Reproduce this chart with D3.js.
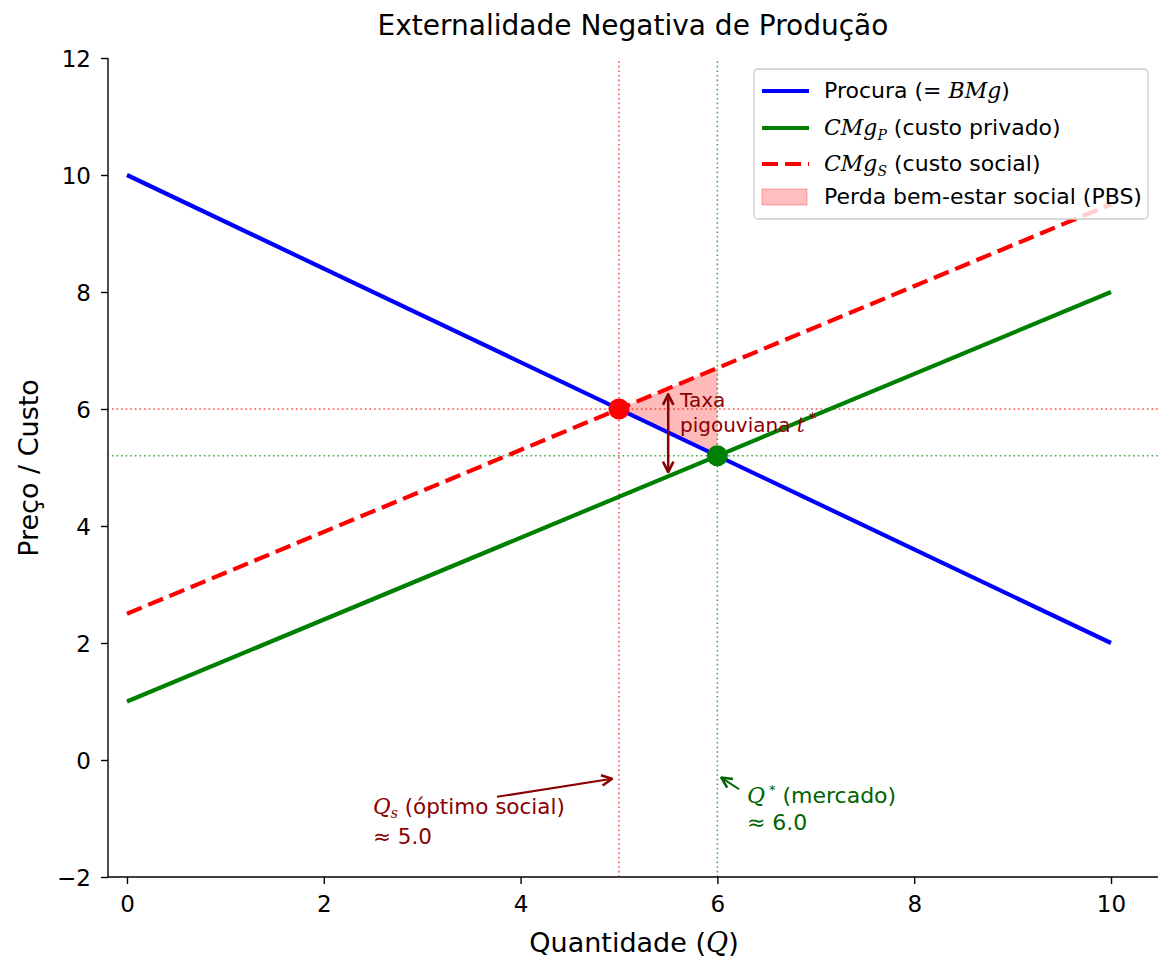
<!DOCTYPE html>
<html>
<head>
<meta charset="utf-8">
<script src="https://cdn.jsdelivr.net/npm/d3@7"></script>
<style>
  body { margin: 0; background: #fff; }
  svg { font-family: "DejaVu Sans", sans-serif; }
  .math { font-family: "DejaVu Serif", serif; font-style: italic; }
</style>
</head>
<body>
<div id="chart"></div>
<script>
// curves: price as function of quantity
const quantities = [0, 10];
const procura = [10, 2];     // BMg
const cmgP = [1, 8];         // custo privado
const cmgS = [2.5, 9.5];     // custo social
const xTicks = [0, 2, 4, 6, 8, 10];
const yTicks = [-2, 0, 2, 4, 6, 8, 10, 12];
const qSocial = 5.0, pSocial = 6.0;
const qMarket = 6.0, pMarket = 5.2;
const pbs = [[5, 6], [6, 6.7], [6, 5.2]];

const width = 1158, height = 960;
const svg = d3.select('#chart').append('svg').attr('width', width).attr('height', height);

const x = d3.scaleLinear().domain([-0.2, 10.5]).range([107.3, 1160.2]);
const y = d3.scaleLinear().domain([-2, 12]).range([877, 58]);

const defs = svg.append('defs');
defs.append('clipPath').attr('id', 'clip').append('rect')
  .attr('x', 108).attr('y', 58).attr('width', width - 108).attr('height', 819);
function marker(id, color) {
  defs.append('marker').attr('id', id).attr('viewBox', '0 0 12 12')
    .attr('refX', 11).attr('refY', 6)
    .attr('orient', 'auto-start-reverse').attr('markerUnits', 'userSpaceOnUse')
    .attr('markerWidth', 14).attr('markerHeight', 14)
    .append('path').attr('d', 'M2,1.5 L11,6 L2,10.5').attr('fill', 'none')
    .attr('stroke', color).attr('stroke-width', 2.2);
}
marker('arrRed', '#8b0000');
marker('arrGreen', '#006400');

const plot = svg.append('g').attr('clip-path', 'url(#clip)');

// guide lines
const guides = [
  { v: true, val: qSocial, c: 'red' },
  { v: false, val: pSocial, c: 'red' },
  { v: true, val: qMarket, c: 'green' },
  { v: false, val: pMarket, c: 'green' }
];
guides.forEach(g => {
  const l = plot.append('line').attr('stroke', g.c).attr('stroke-width', 1.6)
    .attr('stroke-dasharray', '1.6,3').attr('opacity', 0.7);
  if (g.v) l.attr('x1', x(g.val)).attr('x2', x(g.val)).attr('y1', y(-2)).attr('y2', y(12));
  else l.attr('y1', y(g.val)).attr('y2', y(g.val)).attr('x1', x(-0.2)).attr('x2', x(10.5));
});

// PBS triangle
plot.append('path')
  .attr('d', d3.line().x(d => x(d[0])).y(d => y(d[1]))(pbs) + 'Z')
  .attr('fill', 'red').attr('fill-opacity', 0.27);

const line = d3.line().x(d => x(d[0])).y(d => y(d[1]));
const series = [
  { vals: procura, c: 'blue', dash: null },
  { vals: cmgP, c: 'green', dash: null },
  { vals: cmgS, c: 'red', dash: '16,7' }
];
series.forEach(s => {
  plot.append('path').datum(quantities.map((q, i) => [q, s.vals[i]]))
    .attr('d', line).attr('fill', 'none').attr('stroke', s.c)
    .attr('stroke-width', 4.2).attr('stroke-dasharray', s.dash);
});

// equilibrium points
plot.append('circle').attr('cx', x(qSocial)).attr('cy', y(pSocial)).attr('r', 10.5).attr('fill', 'red');
plot.append('circle').attr('cx', x(qMarket)).attr('cy', y(pMarket)).attr('r', 10.5).attr('fill', 'green');

// pigouvian tax arrow
svg.append('line').attr('x1', x(5.5)).attr('x2', x(5.5)).attr('y1', y(6.25)).attr('y2', y(4.92))
  .attr('stroke', '#8b0000').attr('stroke-width', 2.5)
  .attr('marker-start', 'url(#arrRed)').attr('marker-end', 'url(#arrRed)');
const taxX = x(5.62), taxY = y(6.1) + 4;
svg.append('text').attr('fill', '#8b0000').attr('font-size', 20)
  .attr('x', taxX).attr('y', taxY).text('Taxa');
const tax2 = svg.append('text').attr('fill', '#8b0000').attr('font-size', 20)
  .attr('x', taxX).attr('y', taxY + 25);
tax2.append('tspan').text('pigouviana ');
tax2.append('tspan').attr('class', 'math').text('t');
const taxW = tax2.node().getComputedTextLength();
svg.append('text').attr('fill', '#8b0000').attr('font-size', 15)
  .attr('x', taxX + taxW + 4).attr('y', taxY + 17).text('*');

// annotations Qs and Q*
svg.append('line').attr('x1', 497).attr('y1', y(-0.63)).attr('x2', x(4.93)).attr('y2', y(-0.32))
  .attr('stroke', '#8b0000').attr('stroke-width', 2).attr('marker-end', 'url(#arrRed)');
const qs = svg.append('text').attr('fill', '#8b0000').attr('font-size', 21.5);
const qs1 = qs.append('tspan').attr('x', x(2.5)).attr('y', y(-0.92));
qs1.append('tspan').attr('class', 'math').text('Q');
qs1.append('tspan').attr('class', 'math').attr('font-size', 14).attr('dy', 4).text('s');
qs1.append('tspan').attr('dy', -4).text(' (óptimo social)');
qs.append('tspan').attr('x', x(2.5)).attr('dy', 30).text('≈ 5.0');

svg.append('line').attr('x1', x(6.22)).attr('y1', y(-0.5)).attr('x2', x(6.04)).attr('y2', y(-0.3))
  .attr('stroke', '#006400').attr('stroke-width', 2).attr('marker-end', 'url(#arrGreen)');
const qm = svg.append('text').attr('fill', '#006400').attr('font-size', 22);
const qm1 = qm.append('tspan').attr('x', x(6.3)).attr('y', y(-0.73));
qm1.append('tspan').attr('class', 'math').text('Q');
qm1.append('tspan').attr('font-size', 13).attr('dx', 4).attr('dy', -9).text('*');
qm1.append('tspan').attr('dy', 9).text('  (mercado)');
qm.append('tspan').attr('x', x(6.3)).attr('dy', 27).text('≈ 6.0');

// axes
const xAxis = svg.append('g').attr('transform', 'translate(0,' + y(-2) + ')')
  .call(d3.axisBottom(x).tickValues(xTicks).tickSize(7).tickPadding(12).tickFormat(d3.format('d')));
const yAxis = svg.append('g').attr('transform', 'translate(108,0)')
  .call(d3.axisLeft(y).tickValues(yTicks).tickSize(7).tickPadding(10).tickFormat(d => d < 0 ? '\u2212' + Math.abs(d) : d));
[xAxis, yAxis].forEach(a => {
  a.selectAll('text').attr('font-size', 23).attr('fill', '#000').attr('font-family', '"DejaVu Sans", sans-serif');
  a.selectAll('line').attr('stroke', '#000').attr('stroke-width', 1.4);
  a.select('.domain').attr('stroke', '#000').attr('stroke-width', 1.4);
});
yAxis.selectAll('text').attr('dy', '0.36em');
xAxis.select('.domain').attr('d', 'M108,0H' + width);
yAxis.select('.domain').attr('d', 'M0,' + y(-2) + 'V' + y(12));

// labels
svg.append('text').attr('x', 633).attr('y', 35).attr('text-anchor', 'middle')
  .attr('font-size', 28).text('Externalidade Negativa de Produção');
const xl = svg.append('text').attr('x', 634).attr('y', 952).attr('text-anchor', 'middle').attr('font-size', 27);
xl.append('tspan').text('Quantidade (');
xl.append('tspan').attr('class', 'math').text('Q');
xl.append('tspan').text(')');
svg.append('text').attr('transform', 'translate(38,468) rotate(-90)').attr('text-anchor', 'middle')
  .attr('font-size', 27).text('Preço / Custo');

// legend
const lg = svg.append('g').attr('transform', 'translate(754,69)');
lg.append('rect').attr('width', 394).attr('height', 150).attr('rx', 4)
  .attr('fill', '#fff').attr('fill-opacity', 0.8).attr('stroke', '#ccc').attr('stroke-width', 1.3);
const items = [
  { c: 'blue', type: 'line', dash: null, parts: [['Procura (= ', 0], ['BMg', 1], [')', 0]] },
  { c: 'green', type: 'line', dash: null, parts: [['CMg', 1], ['P', 2], [' (custo privado)', 0]] },
  { c: 'red', type: 'line', dash: '16,7', parts: [['CMg', 1], ['S', 2], [' (custo social)', 0]] },
  { c: 'red', type: 'patch', parts: [['Perda bem-estar social (PBS)', 0]] }
];
const rowY = [22, 59, 95, 128];
items.forEach((it, i) => {
  const g = lg.append('g').attr('transform', 'translate(0,' + rowY[i] + ')');
  if (it.type === 'line') {
    g.append('line').attr('x1', 8).attr('x2', 55).attr('stroke', it.c).attr('stroke-width', 4)
      .attr('stroke-dasharray', it.dash);
  } else {
    g.append('rect').attr('x', 8).attr('y', -8).attr('width', 45).attr('height', 16)
      .attr('fill', 'red').attr('fill-opacity', 0.25).attr('stroke', 'red').attr('stroke-opacity', 0.3);
  }
  const t = g.append('text').attr('x', 70).attr('y', 7).attr('font-size', 22);
  let sub = false;
  it.parts.forEach(p => {
    const ts = t.append('tspan').text(p[0]);
    if (p[1] === 1) ts.attr('class', 'math');
    if (p[1] === 2) { ts.attr('class', 'math').attr('font-size', 14).attr('dy', 5); sub = true; }
    else if (sub) { ts.attr('dy', -5); sub = false; }
  });
});
</script>
</body>
</html>
